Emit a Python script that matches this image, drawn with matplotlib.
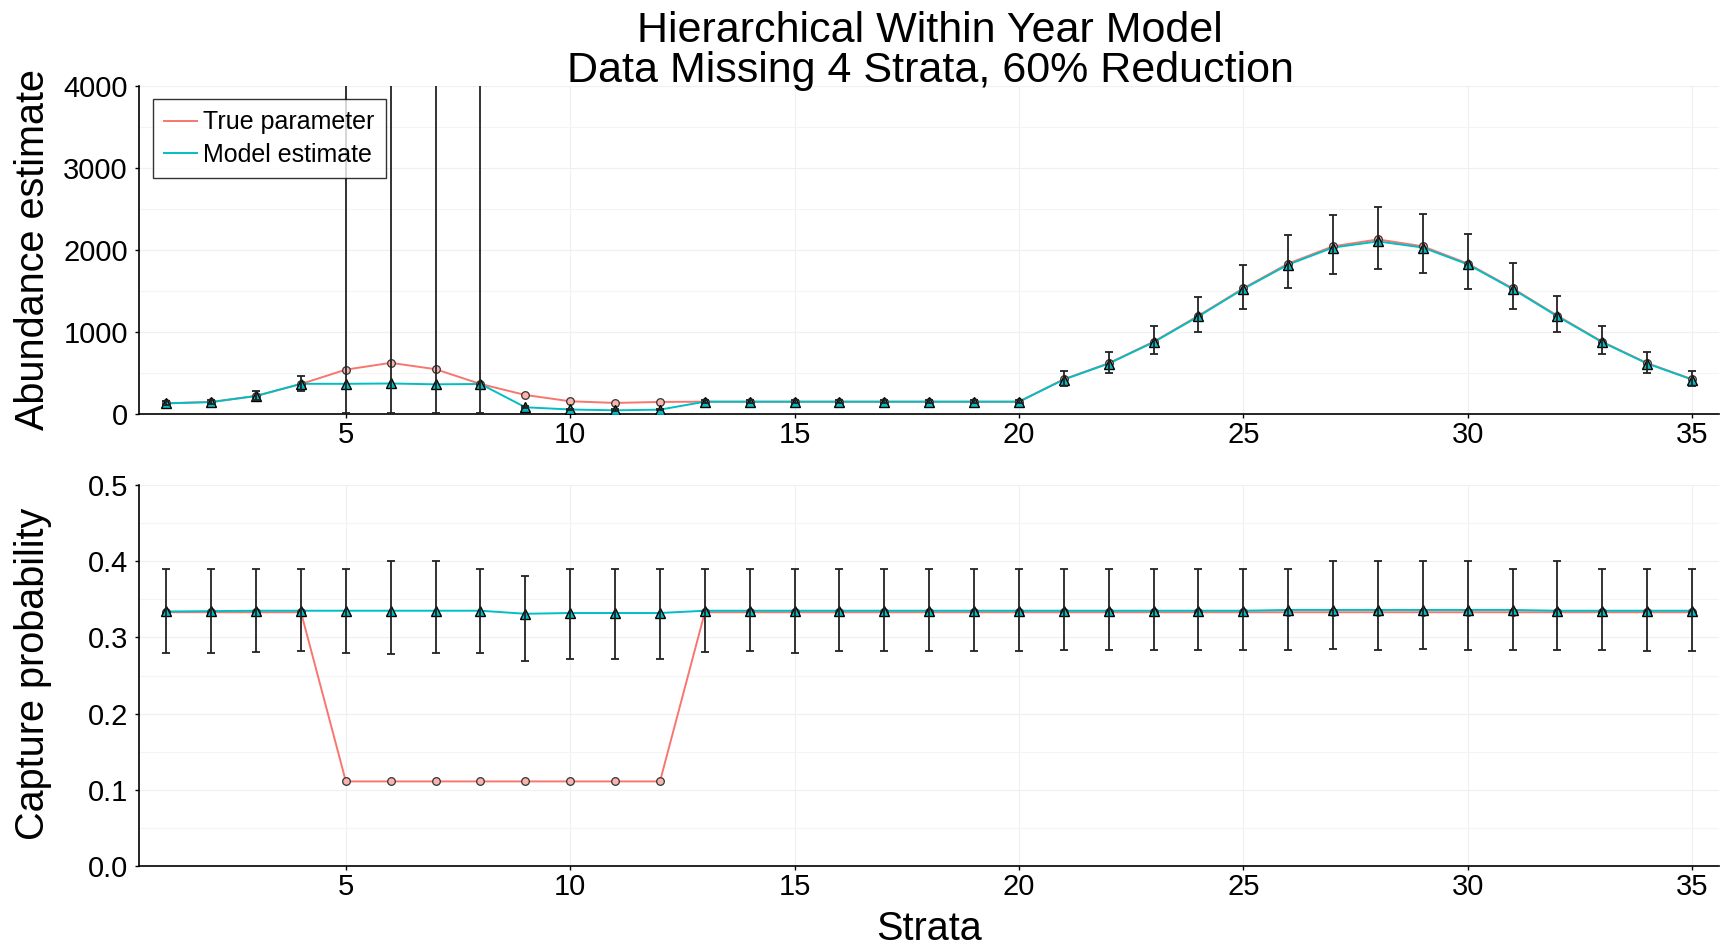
import numpy as np
import matplotlib
matplotlib.use('Agg')
import matplotlib.pyplot as plt

plt.rcParams['font.family'] = ['Liberation Sans', 'DejaVu Sans']

# Données
strata = np.arange(1, 36)

n_true = [130, 146, 220, 366, 541, 624, 546, 366, 232, 155, 135, 147,
          150, 150, 150, 150, 150, 150, 150, 150,
          424, 620, 881, 1199, 1533, 1835, 2045, 2129, 2045, 1835, 1533,
          1199, 881, 620, 424]
n_est = [130, 146, 220, 368, 368, 372, 362, 366, 82, 55, 45, 53,
         150, 150, 150, 150, 150, 150, 150, 150,
         420, 615, 875, 1190, 1525, 1822, 2030, 2105, 2030, 1825, 1525,
         1190, 875, 615, 420]
n_lo = [110, 125, 175, 285, 10, 10, 10, 10, 70, 45, 35, 43,
        135, 135, 135, 135, 135, 135, 135, 135,
        338, 506, 730, 995, 1285, 1538, 1713, 1766, 1717, 1529, 1281,
        995, 734, 506, 338]
n_hi = [155, 175, 285, 460, 6000, 6000, 6000, 6000, 95, 66, 56, 64,
        165, 165, 165, 165, 165, 165, 165, 165,
        526, 754, 1069, 1432, 1823, 2186, 2431, 2528, 2435, 2194, 1839,
        1440, 1069, 754, 522]

p_true = [0.333] * 4 + [0.111] * 8 + [0.333] * 23
p_est = [0.334, 0.3345, 0.335, 0.335, 0.335, 0.335, 0.335, 0.335, 0.331,
         0.332, 0.332, 0.332, 0.335, 0.335, 0.335, 0.335, 0.335, 0.335,
         0.335, 0.335, 0.335, 0.335, 0.335, 0.335, 0.335, 0.336, 0.336,
         0.336, 0.336, 0.336, 0.336, 0.335, 0.335, 0.335, 0.335]
p_lo = [0.279, 0.279, 0.281, 0.282, 0.279, 0.278, 0.280, 0.280, 0.269,
        0.272, 0.272, 0.272, 0.281, 0.282, 0.279, 0.282, 0.282, 0.282,
        0.282, 0.282, 0.283, 0.283, 0.283, 0.284, 0.284, 0.284, 0.285,
        0.284, 0.285, 0.284, 0.283, 0.283, 0.284, 0.282, 0.282]
p_hi = [0.39, 0.39, 0.39, 0.39, 0.39, 0.40, 0.40, 0.39, 0.38, 0.39, 0.39,
        0.39, 0.39, 0.39, 0.39, 0.39, 0.39, 0.39, 0.39, 0.39, 0.39, 0.39,
        0.39, 0.39, 0.39, 0.39, 0.40, 0.40, 0.40, 0.40, 0.39, 0.40, 0.39,
        0.39, 0.39]

rouge = '#F8766D'
cyan = '#00BFC4'

fig = plt.figure(figsize=(17.33, 9.47), dpi=100)
ax1 = fig.add_axes([139 / 1733, 1 - 414 / 947, 1580 / 1733, 328 / 947])
ax2 = fig.add_axes([139 / 1733, 1 - 866 / 947, 1580 / 1733, 381 / 947])


def panneau(ax, vrai, est, lo, hi):
    ax.plot(strata, vrai, color=rouge, lw=1.4, zorder=2, label='True parameter')
    ax.plot(strata, est, color=cyan, lw=1.4, zorder=2, label='Model estimate')
    ax.plot(strata, vrai, ls='none', marker='o', ms=5.5, mfc='#F9B4AE',
            mec='#333333', mew=0.9, zorder=3)
    ax.plot(strata, est, ls='none', marker='^', ms=6.5, mfc=cyan,
            mec='black', mew=1.0, zorder=4)
    est = np.array(est)
    yerr = [est - np.array(lo), np.array(hi) - est]
    ax.errorbar(strata, est, yerr=yerr, fmt='none', ecolor='#222222',
                elinewidth=1.3, capsize=2.8, capthick=1.3, zorder=5)
    ax.set_xlim(0.39, 35.6)
    ax.set_xticks([5, 10, 15, 20, 25, 30, 35])
    ax.spines['top'].set_visible(False)
    ax.spines['right'].set_visible(False)
    ax.spines['left'].set_linewidth(1.2)
    ax.spines['bottom'].set_linewidth(1.2)
    ax.tick_params(labelsize=21, length=3, width=1, pad=2)
    ax.tick_params(axis='y', pad=5)
    ax.grid(True, which='major', color='#F0F0F0', lw=0.9, zorder=0)
    ax.grid(True, which='minor', axis='y', color='#F4F4F4', lw=0.8, zorder=0)
    ax.set_axisbelow(True)


panneau(ax1, n_true, n_est, n_lo, n_hi)
ax1.set_ylim(0, 4000)
ax1.set_yticks([0, 1000, 2000, 3000, 4000])
ax1.set_yticks([500, 1500, 2500, 3500], minor=True)
ax1.tick_params(which='minor', length=0)

leg = ax1.legend(loc='upper left', bbox_to_anchor=(0.009, 0.96),
                 borderaxespad=0, fontsize=18, fancybox=False,
                 edgecolor='black', handlelength=1.3, handletextpad=0.25,
                 labelspacing=0.35, borderpad=0.45)
leg.get_frame().set_linewidth(1.0)
leg.set_zorder(10)

panneau(ax2, p_true, p_est, p_lo, p_hi)
ax2.set_ylim(0, 0.5)
ax2.set_yticks([0.0, 0.1, 0.2, 0.3, 0.4, 0.5])
ax2.set_yticklabels(['0.0', '0.1', '0.2', '0.3', '0.4', '0.5'])
ax2.set_yticks([0.05, 0.15, 0.25, 0.35, 0.45], minor=True)
ax2.tick_params(which='minor', length=0)

# Titres et étiquettes des axes
fig.text(930 / 1733, 1 - 42 / 947, 'Hierarchical Within Year Model',
         ha='center', va='baseline', fontsize=31)
fig.text(930 / 1733, 1 - 82 / 947, 'Data Missing 4 Strata, 60% Reduction',
         ha='center', va='baseline', fontsize=31)
fig.text(33 / 1733, 1 - 250 / 947, 'Abundance estimate', rotation=90,
         ha='center', va='center', fontsize=28.5)
fig.text(33 / 1733, 1 - 674 / 947, 'Capture probability', rotation=90,
         ha='center', va='center', fontsize=28.5)
fig.text(929 / 1733, 1 - 940 / 947, 'Strata', ha='center', va='baseline',
         fontsize=28.5)

plt.savefig('out.png', dpi=100)
